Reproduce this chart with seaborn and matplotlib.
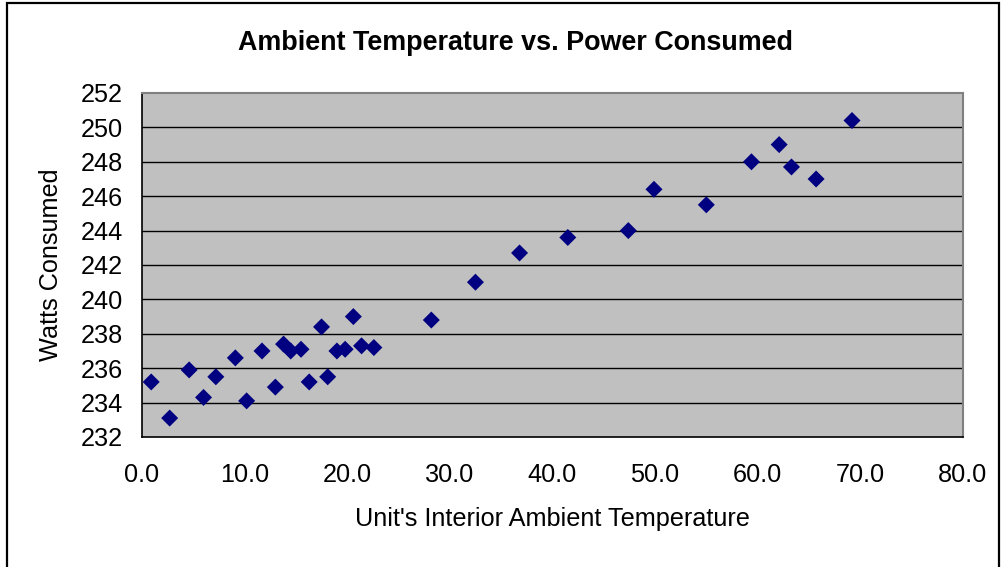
import numpy as np
import pandas as pd
import matplotlib
matplotlib.use("Agg")
import matplotlib.pyplot as plt
import seaborn as sns
from matplotlib.patches import Rectangle

# Datos (temperatura interior vs. potencia consumida)
temps = [0.9, 2.7, 4.6, 6.0, 7.2, 9.1, 10.2, 11.7, 13.0, 13.8, 14.5, 15.5,
         16.3, 17.5, 18.1, 19.0, 19.8, 20.6, 21.4, 22.6, 28.2, 32.5, 36.8,
         41.5, 47.4, 49.9, 55.0, 59.4, 62.1, 63.3, 65.7, 69.2]
watts = [235.2, 233.1, 235.9, 234.3, 235.5, 236.6, 234.1, 237.0, 234.9, 237.4,
         237.0, 237.1, 235.2, 238.4, 235.5, 237.0, 237.1, 239.0, 237.3, 237.2,
         238.8, 241.0, 242.7, 243.6, 244.0, 246.4, 245.5, 248.0, 249.0, 247.7,
         247.0, 250.4]

x_ticks = [0, 10, 20, 30, 40, 50, 60, 70, 80]
y_ticks = [232, 234, 236, 238, 240, 242, 244, 246, 248, 250, 252]

df = pd.DataFrame({"temp": temps, "watts": watts})

sns.set_style("white")
plt.rcParams["font.family"] = ["Liberation Sans", "DejaVu Sans"]
plt.rcParams["text.color"] = "black"
plt.rcParams["axes.labelcolor"] = "black"
plt.rcParams["xtick.color"] = "black"
plt.rcParams["ytick.color"] = "black"

fig = plt.figure(figsize=(10.04, 5.67), dpi=100)
ax = fig.add_axes([0.1414, 0.2293, 0.8176, 0.6067])

# ── Área del gráfico estilo Excel ──────────────
ax.set_facecolor("#C0C0C0")
for y in y_ticks[1:-1]:
    ax.axhline(y, color="black", linewidth=1.0, zorder=1)

sns.scatterplot(data=df, x="temp", y="watts", marker="D", s=75,
                color="#000080", edgecolor="none", ax=ax, zorder=3)

ax.set_xlim(0, 80)
ax.set_ylim(232, 252)
ax.set_xticks(x_ticks)
ax.set_xticklabels([f"{v:.1f}" for v in x_ticks])
ax.set_yticks(y_ticks)
ax.set_yticklabels([str(v) for v in y_ticks])
ax.tick_params(axis="both", direction="out", length=6, width=1.0,
               color="black", labelsize=18.2)
ax.tick_params(axis="x", pad=13)
ax.tick_params(axis="y", pad=7.5)

for side in ["left", "bottom"]:
    ax.spines[side].set_color("black")
    ax.spines[side].set_linewidth(1.2)
for side in ["top", "right"]:
    ax.spines[side].set_color("#808080")
    ax.spines[side].set_linewidth(1.5)

ax.set_xlabel("Unit's Interior Ambient Temperature", fontsize=18.2, labelpad=14)
ax.set_ylabel("Watts Consumed", fontsize=18.2, labelpad=13)
fig.suptitle("Ambient Temperature vs. Power Consumed", fontsize=19.4,
             fontweight="bold", x=0.513, y=0.924, va="center")

# Borde exterior del gráfico (cortado abajo)
fig.patches.append(Rectangle((0.007, -0.05), 0.988, 1.044,
                             transform=fig.transFigure, fill=False,
                             edgecolor="black", linewidth=1.6))

fig.savefig("out.png", dpi=100)
